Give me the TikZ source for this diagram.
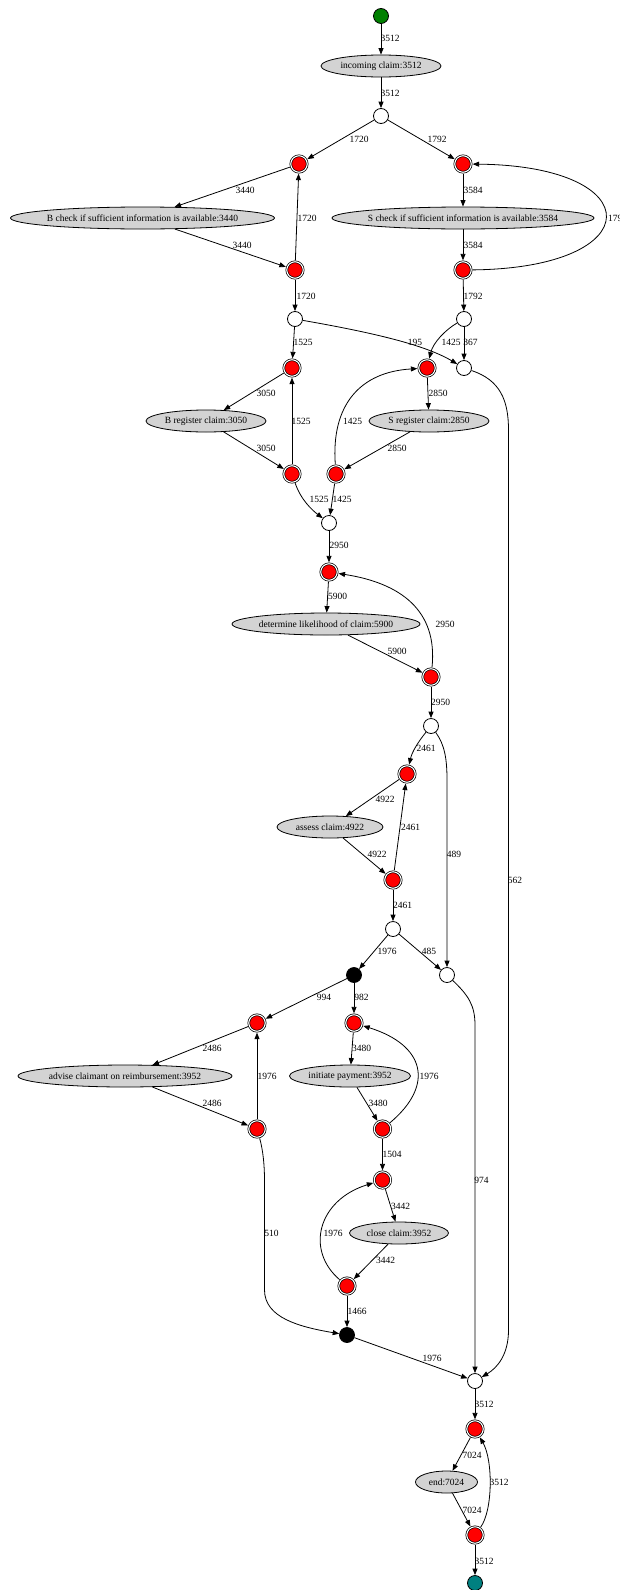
\documentclass[tikz,border=0pt]{standalone}
\usepackage{fontspec}
\setmainfont{Liberation Serif}
\usetikzlibrary{arrows.meta,shapes.geometric}
\definecolor{actfill}{RGB}{211,211,211}
\definecolor{startgreen}{RGB}{0,128,0}
\definecolor{endteal}{RGB}{0,128,128}
\begin{document}
\begin{tikzpicture}[x=1pt,y=-1pt,
  every node/.style={font=\fontsize{9.5}{11}\selectfont},
  place/.style={circle,draw,line width=0.8pt,fill=white,minimum size=15pt,inner sep=0pt},
  bplace/.style={place,fill=black},
  gplace/.style={place,fill=startgreen},
  tplace/.style={place,fill=endteal},
  rplace/.style={circle,draw,line width=0.7pt,double,double distance=1.1pt,fill=red,minimum size=16.5pt,inner sep=0pt,outer sep=1.4pt},
  act/.style={ellipse,draw,line width=0.8pt,fill=actfill,minimum height=22pt,inner xsep=-12pt,inner ysep=0pt},
  e/.style={draw,line width=0.8pt,-{Triangle[length=6.5pt,width=5pt]}},
  lab/.style={inner sep=0pt}
]
\fill[white] (0,0) rectangle (619,1590);
\useasboundingbox (0,0) rectangle (619,1590);

% nodes
\node[gplace] (start) at (381,16) {};
\node[act,minimum width=120pt] (inc) at (381,66) {incoming claim:3512};
\node[place] (o1) at (381,116) {};
\node[rplace] (r1) at (299,164) {};
\node[rplace] (r2) at (463,164) {};
\node[act,minimum width=264pt] (bcheck) at (142.5,218) {B check if sufficient information is available:3440};
\node[act,minimum width=262pt] (scheck) at (463,218) {S check if sufficient information is available:3584};
\node[rplace] (r3) at (295,270) {};
\node[rplace] (r4) at (463,270) {};
\node[place] (o2) at (295,319) {};
\node[place] (o3) at (464,319) {};
\node[rplace] (r5) at (292,368) {};
\node[rplace] (r6) at (427,368) {};
\node[place] (o4) at (464,368) {};
\node[act,minimum width=120pt] (breg) at (206,421) {B register claim:3050};
\node[act,minimum width=120pt] (sreg) at (429,421) {S register claim:2850};
\node[rplace] (r7) at (292,474) {};
\node[rplace] (r8) at (336,474) {};
\node[place] (o5) at (329,523) {};
\node[rplace] (r9) at (329,572) {};
\node[act,minimum width=188pt] (det) at (326,624) {determine likelihood of claim:5900};
\node[rplace] (r10) at (431,677) {};
\node[place] (o6) at (431,726) {};
\node[rplace] (r11) at (407,774) {};
\node[act,minimum width=106pt] (assess) at (330,827) {assess claim:4922};
\node[rplace] (r12) at (393,880) {};
\node[place] (o7) at (393,929) {};
\node[bplace] (b1) at (354,975) {};
\node[place] (o8) at (447,975) {};
\node[rplace] (r13) at (257,1023) {};
\node[rplace] (r14) at (354,1023) {};
\node[act,minimum width=214pt] (advise) at (125,1076) {advise claimant on reimbursement:3952};
\node[act,minimum width=121pt] (init) at (350,1076) {initiate payment:3952};
\node[rplace] (r15) at (257,1129) {};
\node[rplace] (r16) at (382.5,1129) {};
\node[rplace] (r17) at (382.5,1180) {};
\node[act,minimum width=99pt] (close) at (399,1233) {close claim:3952};
\node[rplace] (r18) at (347,1286) {};
\node[bplace] (b2) at (347,1335) {};
\node[place] (o9) at (475,1381) {};
\node[rplace] (r19) at (475,1429) {};
\node[act,minimum width=62pt] (endact) at (446.5,1482) {end:7024};
\node[rplace] (r20) at (475,1535) {};
\node[tplace] (fin) at (475,1583) {};

% edges
\draw[e] (start) -- (inc);
\draw[e] (inc) -- (o1);
\draw[e] (o1) -- (r1);
\draw[e] (o1) -- (r2);
\draw[e] (r1) -- (bcheck);
\draw[e] (bcheck) -- (r3);
\draw[e] (r3) -- (r1);
\draw[e] (r2) -- (scheck);
\draw[e] (scheck) -- (r4);
\draw[e] (r4) .. controls (650,268) and (650,166) .. (r2);
\draw[e] (r3) -- (o2);
\draw[e] (r4) -- (o3);
\draw[e] (o2) -- (r5);
\draw[e] (o2) .. controls (375,333) and (425,345) .. (o4);
\draw[e] (o3) .. controls (445,330) and (433,343) .. (r6);
\draw[e] (o3) -- (o4);
\draw[e] (r5) -- (breg);
\draw[e] (breg) -- (r7);
\draw[e] (r7) -- (r5);
\draw[e] (r6) -- (sreg);
\draw[e] (sreg) -- (r8);
\draw[e] (r8) .. controls (331,405) and (360,372) .. (r6);
\draw[e] (r7) .. controls (301,500) and (312,510) .. (o5);
\draw[e] (r8) -- (o5);
\draw[e] (o4) .. controls (500,380) and (508.5,400) .. (508.5,430) -- (508.5,1330) .. controls (508.5,1355) and (497,1368) .. (o9);
\draw[e] (o5) -- (r9);
\draw[e] (r9) -- (det);
\draw[e] (det) -- (r10);
\draw[e] (r10) .. controls (438,610) and (400,583) .. (r9);
\draw[e] (r10) -- (o6);
\draw[e] (o6) .. controls (418,742) and (412,752) .. (r11);
\draw[e] (o6) .. controls (445,745) and (447,760) .. (447,780) -- (o8);
\draw[e] (r11) -- (assess);
\draw[e] (assess) -- (r12);
\draw[e] (r12) -- (r11);
\draw[e] (r12) -- (o7);
\draw[e] (o7) -- (b1);
\draw[e] (o7) -- (o8);
\draw[e] (b1) -- (r13);
\draw[e] (b1) -- (r14);
\draw[e] (r13) -- (advise);
\draw[e] (advise) -- (r15);
\draw[e] (r15) -- (r13);
\draw[e] (r14) -- (init);
\draw[e] (init) -- (r16);
\draw[e] (r16) .. controls (435,1085) and (425,1045) .. (r14);
\draw[e] (r15) .. controls (263,1150) and (264.5,1165) .. (264.5,1180) -- (264.5,1290) .. controls (264.5,1318) and (300,1327) .. (b2);
\draw[e] (r16) -- (r17);
\draw[e] (r17) -- (close);
\draw[e] (close) -- (r18);
\draw[e] (r18) .. controls (305,1250) and (318,1200) .. (r17);
\draw[e] (r18) -- (b2);
\draw[e] (b2) -- (o9);
\draw[e] (o8) .. controls (468,995) and (475,1005) .. (475,1025) -- (o9);
\draw[e] (o9) -- (r19);
\draw[e] (r19) -- (endact);
\draw[e] (endact) -- (r20);
\draw[e] (r20) .. controls (493,1510) and (493,1460) .. (r19);
\draw[e] (r20) -- (fin);

% labels
\node[lab] (l1) at (390,38) {3512};
\node[lab] (l2) at (390,93) {3512};
\node[lab] (l3) at (359,139) {1720};
\node[lab] (l4) at (437,139) {1792};
\node[lab] (l5) at (245,190) {3440};
\node[lab] (l6) at (242,245) {3440};
\node[lab] (l7) at (307,218) {1720};
\node[lab] (l8) at (473,190) {3584};
\node[lab] (l9) at (473,245) {3584};
\node[lab,anchor=west] (l10) at (608,218) {1792};
\node[lab] (l11) at (306,296) {1720};
\node[lab] (l12) at (473,296) {1792};
\node[lab] (l13) at (303,342) {1525};
\node[lab] (l14) at (415,342) {195};
\node[lab] (l15) at (451,342) {1425};
\node[lab] (l16) at (470.5,342) {367};
\node[lab] (l17) at (266,393) {3050};
\node[lab] (l18) at (266,448) {3050};
\node[lab] (l19) at (301,421) {1525};
\node[lab] (l20) at (438,393) {2850};
\node[lab] (l21) at (397,448) {2850};
\node[lab] (l22) at (352.5,421) {1425};
\node[lab] (l23) at (319,499) {1525};
\node[lab] (l24) at (342,499) {1425};
\node[lab] (l25) at (515,880) {562};
\node[lab] (l26) at (339,545) {2950};
\node[lab] (l27) at (337.5,596) {5900};
\node[lab] (l28) at (397,651) {5900};
\node[lab] (l29) at (445,624) {2950};
\node[lab] (l30) at (440.6,702) {2950};
\node[lab] (l31) at (426,748) {2461};
\node[lab] (l32) at (454,854) {489};
\node[lab] (l33) at (385,799) {4922};
\node[lab] (l34) at (377,854) {4922};
\node[lab] (l35) at (410.6,827) {2461};
\node[lab] (l36) at (402.7,905) {2461};
\node[lab] (l37) at (387,951) {1976};
\node[lab] (l38) at (429,951) {485};
\node[lab] (l39) at (324,997) {994};
\node[lab] (l40) at (361.6,997) {982};
\node[lab] (l41) at (212,1048) {2486};
\node[lab] (l42) at (212,1103) {2486};
\node[lab] (l43) at (267,1076) {1976};
\node[lab] (l44) at (361.6,1048) {3480};
\node[lab] (l45) at (378,1103) {3480};
\node[lab] (l46) at (429,1076) {1976};
\node[lab] (l47) at (271.6,1233) {510};
\node[lab] (l48) at (392,1154) {1504};
\node[lab] (l49) at (400.7,1206) {3442};
\node[lab] (l50) at (385.7,1260) {3442};
\node[lab] (l51) at (333,1233) {1976};
\node[lab] (l52) at (357,1311) {1466};
\node[lab] (l53) at (432,1358) {1976};
\node[lab] (l54) at (481.6,1180) {974};
\node[lab] (l55) at (484,1404) {3512};
\node[lab] (l56) at (472,1455) {7024};
\node[lab] (l57) at (472,1510) {7024};
\node[lab] (l58) at (499,1482) {3512};
\node[lab] (l59) at (484,1561) {3512};
\end{tikzpicture}
\end{document}
